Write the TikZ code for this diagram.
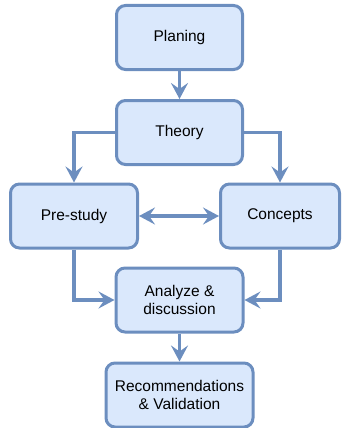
\documentclass[tikz,border=0pt]{standalone}
\usepackage{fontspec}
\setmainfont{Liberation Sans}
\usetikzlibrary{arrows.meta}
\definecolor{boxfill}{HTML}{DAE8FC}
\definecolor{boxline}{HTML}{6C8EBF}
\tikzset{tip/.tip={Stealth[length=16pt,width=17pt,inset=6pt]}}
\begin{document}
\begin{tikzpicture}[x=1pt,y=-1pt,
  stage/.style={draw=boxline, fill=boxfill, line width=3pt, rounded corners=9pt,
    minimum height=64pt, align=center, font=\fontsize{15.5}{18}\selectfont, inner sep=0pt},
  flow/.style={draw=boxline, line width=3.4pt, -tip},
  flow2/.style={draw=boxline, line width=3.4pt, tip-tip}]
\useasboundingbox (0,0) rectangle (341,428);
\node[stage, minimum width=126pt] (plan) at (179.5,37.5) {Planing};
\node[stage, minimum width=126pt] (theory) at (179.5,132.5) {Theory};
\node[stage, minimum width=127pt] (pre) at (74,216) {Pre-study};
\node[stage, minimum width=119pt] (con) at (280,216) {Concepts};
\node[stage, minimum width=127pt] (ana) at (179.5,300) {Analyze \&\\discussion};
\node[stage, minimum width=147pt] (rec) at (179.5,395) {Recommendations\\\& Validation};
\draw[flow] (plan) -- (theory);
\draw[flow] (theory.west) -| (pre.north);
\draw[flow] (theory.east) -| (con.north);
\draw[flow2] (pre) -- (con);
\draw[flow] (pre.south) |- (ana.west);
\draw[flow] (con.south) |- (ana.east);
\draw[flow] (ana) -- (rec);
\end{tikzpicture}
\end{document}
